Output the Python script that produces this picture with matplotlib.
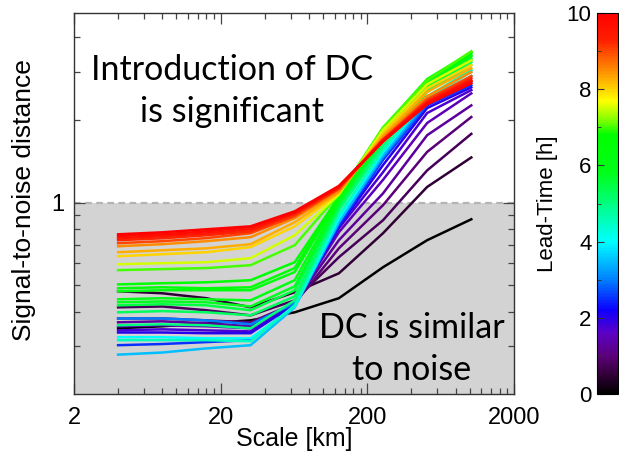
import matplotlib
matplotlib.use("Agg")
import matplotlib.pyplot as plt
from matplotlib.colors import LinearSegmentedColormap, Normalize
from matplotlib.cm import ScalarMappable
import numpy as np

# scales of the neighbourhood [km]
scale_km = [4, 8, 16, 32, 64, 128, 256, 512, 1024]

# lead times [h] and signal-to-noise distance per scale
lead_time = [0, 0.5, 0.75, 1.0, 1.25, 1.5, 1.75, 2.0, 2.5, 3.0, 3.5, 4.0, 4.5,
             5.0, 5.25, 5.5, 5.75, 6.0, 6.25, 6.5, 6.75, 7.0, 7.5, 8.0, 8.25,
             8.5, 9.0, 9.25, 9.5, 9.75, 10.0]
snd = [
    [0.348, 0.354, 0.363, 0.372, 0.398, 0.448, 0.581, 0.729, 0.869],
    [0.475, 0.467, 0.448, 0.415, 0.471, 0.552, 0.773, 1.14, 1.46],
    [0.415, 0.418, 0.405, 0.388, 0.440, 0.632, 0.862, 1.31, 1.78],
    [0.378, 0.378, 0.372, 0.366, 0.429, 0.681, 0.978, 1.53, 2.05],
    [0.366, 0.369, 0.363, 0.354, 0.433, 0.729, 1.08, 1.76, 2.26],
    [0.354, 0.357, 0.354, 0.348, 0.433, 0.779, 1.21, 1.95, 2.50],
    [0.342, 0.345, 0.342, 0.339, 0.429, 0.806, 1.29, 2.12, 2.57],
    [0.336, 0.336, 0.334, 0.334, 0.426, 0.819, 1.37, 2.21, 2.63],
    [0.302, 0.305, 0.310, 0.315, 0.422, 0.826, 1.43, 2.26, 2.68],
    [0.378, 0.378, 0.372, 0.360, 0.429, 0.848, 1.46, 2.30, 2.75],
    [0.279, 0.284, 0.294, 0.302, 0.415, 0.848, 1.49, 2.36, 2.89],
    [0.323, 0.323, 0.320, 0.320, 0.418, 0.877, 1.53, 2.40, 2.99],
    [0.315, 0.315, 0.315, 0.312, 0.422, 0.899, 1.55, 2.44, 3.04],
    [0.357, 0.360, 0.357, 0.348, 0.440, 0.937, 1.60, 2.53, 3.17],
    [0.398, 0.402, 0.398, 0.388, 0.455, 0.962, 1.65, 2.57, 3.25],
    [0.422, 0.426, 0.422, 0.405, 0.479, 0.978, 1.69, 2.61, 3.30],
    [0.433, 0.436, 0.433, 0.418, 0.495, 0.995, 1.72, 2.66, 3.36],
    [0.444, 0.448, 0.444, 0.440, 0.521, 1.02, 1.76, 2.70, 3.42],
    [0.475, 0.479, 0.479, 0.479, 0.558, 1.04, 1.79, 2.75, 3.45],
    [0.487, 0.491, 0.487, 0.491, 0.577, 1.05, 1.84, 2.79, 3.50],
    [0.503, 0.508, 0.512, 0.521, 0.606, 1.05, 1.87, 2.82, 3.53],
    [0.567, 0.572, 0.577, 0.591, 0.699, 1.07, 1.88, 2.79, 3.56],
    [0.596, 0.601, 0.606, 0.627, 0.760, 1.07, 1.84, 2.70, 3.30],
    [0.637, 0.648, 0.659, 0.688, 0.819, 1.08, 1.79, 2.61, 3.17],
    [0.659, 0.670, 0.681, 0.705, 0.848, 1.09, 1.76, 2.53, 3.09],
    [0.693, 0.705, 0.723, 0.748, 0.877, 1.10, 1.73, 2.44, 2.99],
    [0.711, 0.723, 0.742, 0.773, 0.891, 1.12, 1.70, 2.38, 2.89],
    [0.729, 0.741, 0.760, 0.785, 0.907, 1.13, 1.69, 2.34, 2.84],
    [0.741, 0.754, 0.772, 0.799, 0.914, 1.14, 1.69, 2.32, 2.79],
    [0.754, 0.766, 0.785, 0.813, 0.922, 1.14, 1.67, 2.30, 2.77],
    [0.766, 0.779, 0.799, 0.819, 0.929, 1.15, 1.67, 2.28, 2.72],
]

x_major = [2, 20, 200, 2000]
x_minor = [4, 6, 8, 10, 12, 14, 16, 18, 40, 60, 80, 100, 120, 140, 160, 180,
           400, 600, 800, 1000, 1200, 1400, 1600, 1800]
y_minor = [0.3, 0.4, 0.5, 0.6, 0.7, 0.8, 0.9, 2, 3, 4]

# rainbow + black colour table
rainbow = LinearSegmentedColormap.from_list("rainbow_black", [
    (0.00, (0.0, 0.0, 0.0)),
    (0.05, (0.2, 0.0, 0.22)),
    (0.10, (0.36, 0.0, 0.48)),
    (0.16, (0.36, 0.0, 0.78)),
    (0.22, (0.05, 0.0, 1.0)),
    (0.30, (0.0, 0.5, 1.0)),
    (0.40, (0.0, 1.0, 1.0)),
    (0.50, (0.0, 1.0, 0.5)),
    (0.58, (0.0, 1.0, 0.1)),
    (0.68, (0.0, 1.0, 0.0)),
    (0.72, (0.5, 1.0, 0.0)),
    (0.77, (1.0, 1.0, 0.0)),
    (0.85, (1.0, 0.55, 0.0)),
    (0.93, (1.0, 0.12, 0.0)),
    (1.00, (1.0, 0.0, 0.0)),
])
norm = Normalize(vmin=0, vmax=10)

plt.rcParams['font.family'] = ['Liberation Sans', 'DejaVu Sans']

fig = plt.figure(figsize=(6.19, 4.57), dpi=100)
ax = fig.add_axes([0.1195, 0.1372, 0.7108, 0.835])
cax = fig.add_axes([0.9645, 0.1372, 0.0339, 0.835])

ax.axhspan(0.2, 1, color='#d3d3d3', zorder=0, lw=0)
ax.axhline(1, color='#b4b4b4', ls=(0, (3, 2)), lw=1.6, zorder=1)

for lt, vals in zip(lead_time, snd):
    ax.plot(scale_km, vals, color=rainbow(norm(lt)), lw=1.8, zorder=2)

ax.set_xscale('log')
ax.set_yscale('log')
ax.set_xlim(2, 2000)
ax.set_ylim(0.2, 4.92)
ax.set_xticks(x_major)
ax.set_xticklabels([str(v) for v in x_major])
ax.set_xticks(x_minor, minor=True)
ax.set_xticklabels([], minor=True)
ax.set_yticks([1])
ax.set_yticklabels(['1'])
ax.set_yticks(y_minor, minor=True)
ax.set_yticklabels([], minor=True)
ax.tick_params(which='both', direction='in', top=True, right=True,
               color='#444444', labelsize=17)
ax.tick_params(which='major', length=8, width=0.9)
ax.tick_params(which='minor', length=4, width=0.9)
ax.tick_params(axis='x', pad=9)
ax.tick_params(axis='y', pad=7)
for sp in ax.spines.values():
    sp.set_color('#333333')
    sp.set_linewidth(1.0)

ax.set_xlabel('Scale [km]', fontsize=18)
ax.xaxis.set_label_coords(0.5, -0.085)
ax.set_ylabel('Signal-to-noise distance', fontsize=19)
ax.yaxis.set_label_coords(-0.086, 0.51)

ax.text(24, 2.55, 'Introduction of DC\nis significant', family='Lato',
        fontsize=24.5, ha='center', va='center', linespacing=1.4)
ax.text(400, 0.292, 'DC is similar\nto noise', family='Lato',
        fontsize=24.5, ha='center', va='center', linespacing=1.4)

sm = ScalarMappable(norm=norm, cmap=rainbow)
cb = fig.colorbar(sm, cax=cax)
cb.set_ticks([0, 2, 4, 6, 8, 10])
cb.set_ticks([1, 3, 5, 7, 9], minor=True)
cax.yaxis.set_ticks_position('left')
cax.yaxis.set_label_position('left')
cax.tick_params(which='both', direction='in', color='#333333', labelsize=16,
                pad=4)
cax.tick_params(which='major', length=5)
cax.tick_params(which='minor', length=3)
cb.outline.set_linewidth(0.8)
cb.set_label('Lead-Time [h]', fontsize=16, labelpad=6)

fig.savefig('out.png', dpi=100)
